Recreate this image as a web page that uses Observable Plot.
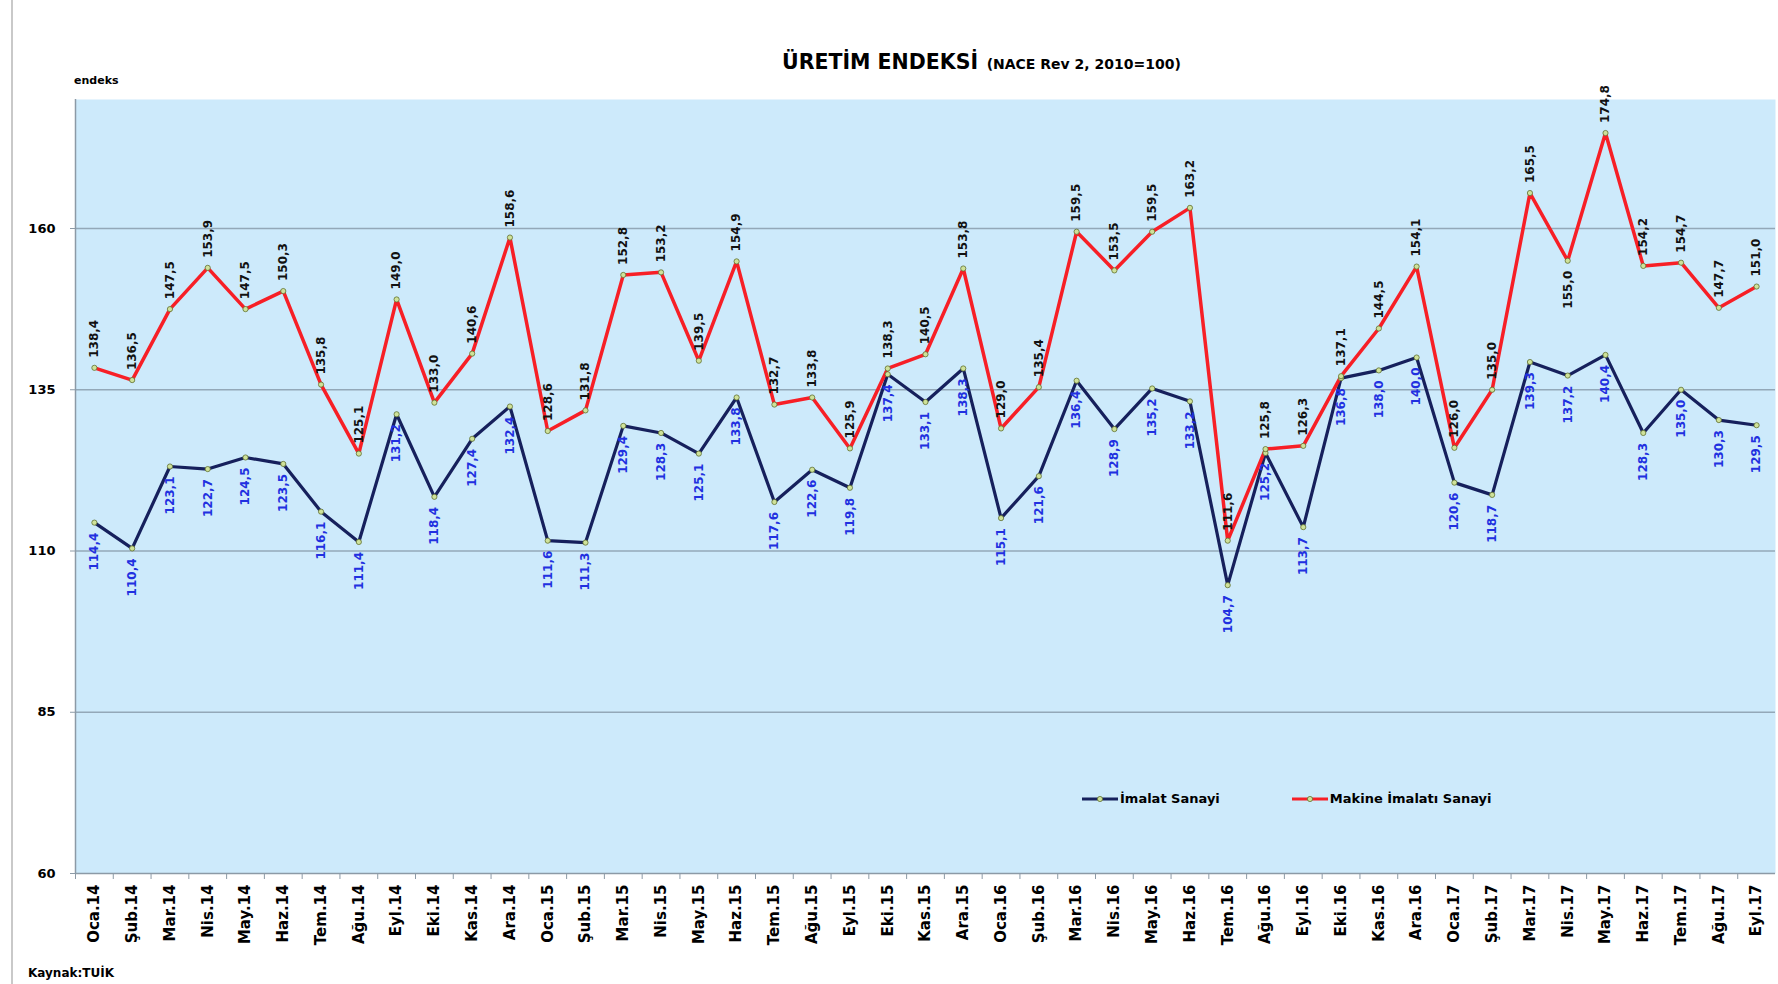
<!DOCTYPE html>
<html><head><meta charset="utf-8">
<script src="https://cdn.jsdelivr.net/npm/d3@7"></script>
<script src="https://cdn.jsdelivr.net/npm/@observablehq/plot@0.6"></script>
<style>
html,body{margin:0;padding:0;background:#fff;overflow:hidden;}
#wrap{position:relative;width:1778px;height:984px;font-family:"DejaVu Sans",Verdana,sans-serif;font-weight:bold;color:#000;}
#border{position:absolute;left:11px;top:0;width:2px;height:984px;background:#c9c9c9;}
#title{position:absolute;left:782px;top:49px;white-space:nowrap;line-height:26px;}
#title .t1{font-size:20.5px;}
#title .t2{font-size:14px;margin-left:3px;}
#ylab{position:absolute;left:74px;top:74px;font-size:11px;}
#chart{position:absolute;left:0;top:90px;}
#legend{position:absolute;top:791px;left:1082px;font-size:13px;display:flex;gap:0;white-space:nowrap;}
#legend .item{display:flex;align-items:center;}
#legend svg{display:block;margin-right:2px;}
#source{position:absolute;left:28px;top:966px;font-size:12px;}
</style></head><body>
<div id="wrap">
  <div id="border"></div>
  <div id="title"><span class="t1">ÜRETİM ENDEKSİ</span> <span class="t2">(NACE Rev 2, 2010=100)</span></div>
  <div id="ylab">endeks</div>
  <div id="chart"></div>
  <div id="legend"></div>
  <div id="source">Kaynak:TUİK</div>
</div>
<script>
const months = [
  "Oca.14","Şub.14","Mar.14","Nis.14","May.14","Haz.14","Tem.14","Ağu.14","Eyl.14","Eki.14","Kas.14","Ara.14",
  "Oca.15","Şub.15","Mar.15","Nis.15","May.15","Haz.15","Tem.15","Ağu.15","Eyl.15","Eki.15","Kas.15","Ara.15",
  "Oca.16","Şub.16","Mar.16","Nis.16","May.16","Haz.16","Tem.16","Ağu.16","Eyl.16","Eki.16","Kas.16","Ara.16",
  "Oca.17","Şub.17","Mar.17","Nis.17","May.17","Haz.17","Tem.17","Ağu.17","Eyl.17"
];
const imalat = [
  114.4,110.4,123.1,122.7,124.5,123.5,116.1,111.4,131.2,118.4,127.4,132.4,
  111.6,111.3,129.4,128.3,125.1,133.8,117.6,122.6,119.8,137.4,133.1,138.3,
  115.1,121.6,136.4,128.9,135.2,133.2,104.7,125.2,113.7,136.8,138.0,140.0,
  120.6,118.7,139.3,137.2,140.4,128.3,135.0,130.3,129.5
];
const makine = [
  138.4,136.5,147.5,153.9,147.5,150.3,135.8,125.1,149.0,133.0,140.6,158.6,
  128.6,131.8,152.8,153.2,139.5,154.9,132.7,133.8,125.9,138.3,140.5,153.8,
  129.0,135.4,159.5,153.5,159.5,163.2,111.6,125.8,126.3,137.1,144.5,154.1,
  126.0,135.0,165.5,155.0,174.8,154.2,154.7,147.7,151.0
];
const yTicks = [60, 85, 110, 135, 160];
const seriesNames = ["İmalat Sanayi", "Makine İmalatı Sanayi"];
const makineLabelBelow = ["Nis.17"];

const navy = "#16205c", red = "#f71f26", bg = "#cdeafb", grid = "#93a8b8", axisCol = "#8c9aa6";
const markerFill = "#cfe29a", markerStroke = "#5f7030";
const W = 1778, H = 875, mL = 75, mR = 3, mT = 9, mB = 92;
const step = (W - mL - mR) / months.length;
const fmt = v => v.toFixed(1).replace(".", ",");
const xOf = (d, i) => months[i];
const yOf = d => d;

const marks = [
  Plot.frame({fill: bg, stroke: "none"}),
  Plot.ruleY(yTicks.slice(1), {stroke: grid, strokeWidth: 1.5}),
  Plot.ruleY([yTicks[0]], {stroke: axisCol, strokeWidth: 1.5}),
  Plot.ruleX([months[0]], {dx: -step / 2, stroke: axisCol, strokeWidth: 1.5}),
  Plot.axisY(yTicks, {tickSize: 5, tickPadding: 15, fontSize: 13, fontWeight: "bold", stroke: axisCol, label: null}),
  Plot.axisX({tickSize: 0, tickPadding: 11, tickRotate: -90, fontSize: 15, fontWeight: "bold", label: null}),
  Plot.axisX({tickSize: 6, dx: -step / 2, fill: "none", stroke: axisCol, label: null}),
  Plot.line(imalat, {x: xOf, y: yOf, stroke: navy, strokeWidth: 3.2}),
  Plot.line(makine, {x: xOf, y: yOf, stroke: red, strokeWidth: 3.5}),
  Plot.dot(imalat, {x: xOf, y: yOf, r: 2.6, fill: markerFill, stroke: markerStroke, strokeWidth: 0.8}),
  Plot.dot(makine, {x: xOf, y: yOf, r: 2.6, fill: markerFill, stroke: markerStroke, strokeWidth: 0.8}),
  Plot.text(makine, {x: xOf, y: yOf, text: fmt, rotate: -90,
    filter: (d, i) => !makineLabelBelow.includes(months[i]),
    textAnchor: "start", dy: -10, fill: "#111", fontSize: 12, fontWeight: "bold"}),
  Plot.text(makine, {x: xOf, y: yOf, text: fmt, rotate: -90,
    filter: (d, i) => makineLabelBelow.includes(months[i]),
    textAnchor: "end", dy: 10, fill: "#111", fontSize: 12, fontWeight: "bold"}),
  Plot.text(imalat, {x: xOf, y: yOf, text: fmt, rotate: -90,
    textAnchor: "end", dy: 10, fill: "#2130e0", fontSize: 12, fontWeight: "bold"})
];

const chart = Plot.plot({
  width: W, height: H,
  marginLeft: mL, marginRight: mR, marginTop: mT, marginBottom: mB,
  style: {fontFamily: "'DejaVu Sans', Verdana, sans-serif", fontWeight: "bold", background: "transparent", color: "#000", overflow: "visible"},
  x: {type: "point", domain: months, padding: 0.5, axis: null},
  y: {domain: [60, 180], axis: null},
  marks
});
document.getElementById("chart").appendChild(chart);

const legend = document.getElementById("legend");
[[seriesNames[0], navy], [seriesNames[1], red]].forEach(([name, col], k) => {
  const item = document.createElement("div");
  item.className = "item";
  if (k > 0) item.style.marginLeft = "72px";
  item.innerHTML = `<svg width="36" height="12"><line x1="0" y1="6" x2="36" y2="6" stroke="${col}" stroke-width="3"/><circle cx="18" cy="6" r="2.6" fill="${markerFill}" stroke="${markerStroke}" stroke-width="0.8"/></svg><span>${name}</span>`;
  legend.appendChild(item);
});
</script>
</body></html>
